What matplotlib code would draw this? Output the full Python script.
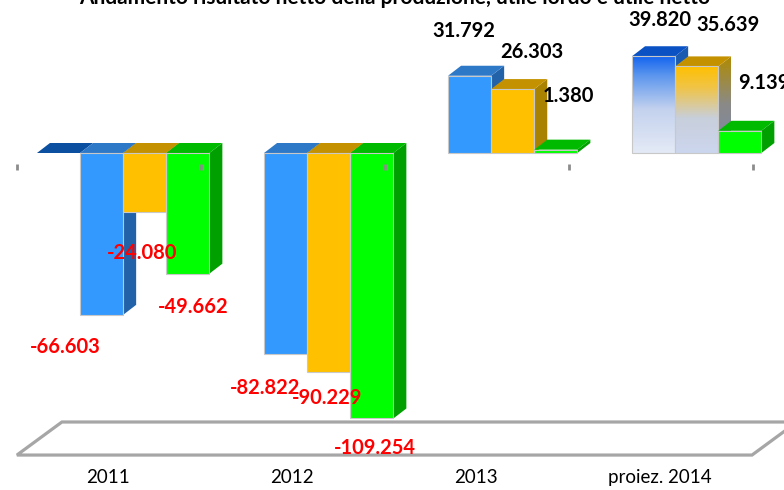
import numpy as np
import matplotlib
matplotlib.use("Agg")
import matplotlib.pyplot as plt
from matplotlib.patches import Polygon
from matplotlib.colors import LinearSegmentedColormap

# ---------------- data ----------------
categories = ["2011", "2012", "2013", "proiez. 2014"]
risultato_netto_produzione = [-66.603, -82.822, 31.792, 39.820]
utile_lordo = [-24.080, -90.229, 26.303, 35.639]
utile_netto = [-49.662, -109.254, 1.380, 9.139]
series = [risultato_netto_produzione, utile_lordo, utile_netto]
title = "Andamento risultato netto della produzione, utile lordo e utile netto"

def fmt(v):
    s = f"{abs(v):.3f}"
    return ("-" if v < 0 else "") + s

# ---------------- style ----------------
W, H, DPI = 784, 490, 100
fig = plt.figure(figsize=(W / DPI, H / DPI), dpi=DPI)
ax = fig.add_axes([0, 0, 1, 1])
ax.set_axis_off()

PX_X = 184.0      # pixels per category
PX_Y = 2.43       # pixels per value unit
x_lo = -108 / PX_X
x_hi = (W - 108) / PX_X
y_hi = 153 / PX_Y
y_lo = -(H - 153) / PX_Y

bw = 43.1 / PX_X          # bar width
goff = 36.7 / PX_X        # group offset (3D shift)
ddx = 13 / PX_X           # depth dx
ddy = 10 / PX_Y           # depth dy

front_c = ["#3399FF", "#FFC000", "#00FF00"]
side_c = ["#2262A8", "#A88200", "#00A000"]
top_c = ["#2E78C8", "#C49200", "#00BA00"]
edge_c = "#C8C8C8"

# floor
fl_front = -124.3
fl_back = -110.7
fl_dx = 45 / PX_X
floor = Polygon([(-0.495, fl_front), (3.5, fl_front), (3.5 + fl_dx, fl_back), (-0.495 + fl_dx, fl_back)],
                closed=True, facecolor="white", edgecolor="#A6A6A6", linewidth=2.3, zorder=1)
ax.add_patch(floor)

def grad(poly, stops, z):
    cmap = LinearSegmentedColormap.from_list("g", stops)
    xs = [p[0] for p in poly]; ys = [p[1] for p in poly]
    arr = np.linspace(0, 1, 256).reshape(-1, 1)
    im = ax.imshow(arr, cmap=cmap, origin="lower", aspect="auto",
                   extent=[min(xs), max(xs), min(ys), max(ys)], zorder=z, interpolation="bilinear")
    clip = Polygon(poly, closed=True, facecolor="none", edgecolor="none", transform=ax.transData)
    ax.add_patch(clip)
    im.set_clip_path(clip)

blue_grad = [(0, "#E4EAF6"), (0.45, "#C4D2EE"), (0.8, "#5C96EE"), (1.0, "#1464F0")]
yel_grad = [(0, "#CCD6EE"), (0.4, "#C8CFDC"), (0.75, "#F0C448"), (1.0, "#FFC000")]
yel_side_grad = [(0, "#7A88A8"), (0.5, "#8A8A88"), (1.0, "#B08A00")]

z = 5
for i, cat in enumerate(categories):
    # ghost top sliver in 2011
    if i == 0:
        xl = i + goff - 2.5 * bw
        ax.add_patch(Polygon([(xl, 0), (xl + bw, 0), (xl + bw + ddx, ddy), (xl + ddx, ddy)],
                             closed=True, facecolor="#0A4FA0", edgecolor="none", zorder=z))
        z += 1
    for j in range(3):
        v = series[j][i]
        xc = i + goff + (j - 1) * bw
        xl, xr = xc - bw / 2, xc + bw / 2
        top = max(v, 0)
        bot = min(v, 0)
        gradient = (i == 3 and j < 2)
        # side face
        side = [(xr, bot), (xr, top), (xr + ddx, top + ddy), (xr + ddx, bot + ddy)]
        if gradient and j == 1:
            grad(side, yel_side_grad, z)
        else:
            sc = "#1A5AB0" if (gradient and j == 0) else side_c[j]
            ax.add_patch(Polygon(side, closed=True, facecolor=sc, edgecolor="none", zorder=z))
        z += 1
        # top face
        tc = top_c[j]
        if gradient and j == 0:
            tc = "#0A52C4"
        ax.add_patch(Polygon([(xl, top), (xr, top), (xr + ddx, top + ddy), (xl + ddx, top + ddy)],
                             closed=True, facecolor=tc, edgecolor="none", zorder=z))
        z += 1
        # front face
        if gradient:
            grad([(xl, bot), (xr, bot), (xr, top), (xl, top)], blue_grad if j == 0 else yel_grad, z)
            z += 1
            ax.bar(xc, v, width=bw, facecolor="none", edgecolor=edge_c, linewidth=0.8, zorder=z)
        else:
            ax.bar(xc, v, width=bw, color=front_c[j], edgecolor=edge_c, linewidth=0.8, zorder=z)
        z += 1

# small tick marks at category boundaries
for b in np.arange(-0.5, len(categories), 1.0):
    ax.plot([b + 0.005, b + 0.005], [-4.6, -7.2], color="#8C8C8C", linewidth=2.0,
            solid_capstyle="butt", zorder=200)

# data labels (offsets in pixels relative to bar end)
label_off = [
    [(-36, -32), (-21, -34), (-6, 45), (6, 36)],
    [(-3, -41), (-2, -26), (19, 37), (31, 41)],
    [(5, -33), (3, -30), (13, 54), (24, 48)],
]
for j in range(3):
    for i in range(len(categories)):
        v = series[j][i]
        xc = i + goff + (j - 1) * bw
        dx, dy = label_off[j][i]
        ax.annotate(fmt(v), (xc, v), xytext=(dx, dy), textcoords="offset pixels",
                    ha="center", va="center", fontsize=14.5, fontweight="bold",
                    family=["Lato", "DejaVu Sans"],
                    color="#FF0000" if v < 0 else "black", zorder=300)

# category labels
for i, cat in enumerate(categories):
    ax.text(i, -133.6, cat, ha="center", va="center", fontsize=13.5,
            family=["Lato", "DejaVu Sans"], color="black", zorder=300)

# title (cut at the top)
fig.text(395 / W, 1 - 3.5 / H, title, ha="center", va="baseline", fontsize=15,
         fontweight="bold", family=["Lato", "DejaVu Sans"], color="black")

ax.set_xlim(x_lo, x_hi)
ax.set_ylim(y_lo, y_hi)
fig.savefig("out.png", dpi=DPI)
